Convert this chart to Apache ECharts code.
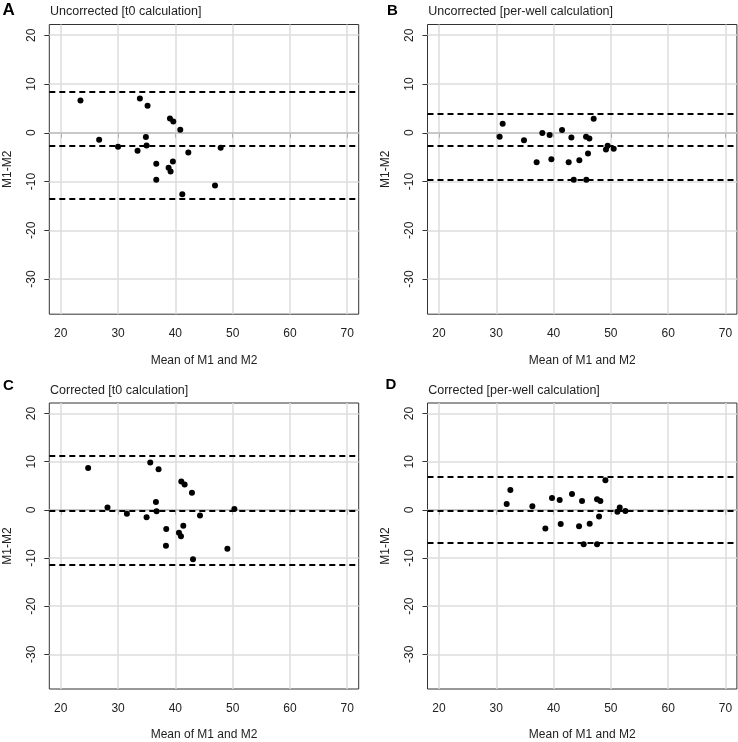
<!DOCTYPE html>
<html><head><meta charset="utf-8">
<script src="https://cdn.jsdelivr.net/npm/echarts@6/dist/echarts.min.js"></script>
<style>html,body{margin:0;padding:0;background:#fff}#c{width:738px;height:742px}</style>
</head><body><div id="c"></div>
<script>
// ---- data ----
const xTicks = [20, 30, 40, 50, 60, 70];
const yTicks = [-30, -20, -10, 0, 10, 20];
const xRange = [18, 72];
const yRange = [-37.2, 22.2];
const panelLetters = ['A', 'B', 'C', 'D'];
const panelTitles = ['Uncorrected [t0 calculation]', 'Uncorrected [per-well calculation]', 'Corrected [t0 calculation]', 'Corrected [per-well calculation]'];
const xName = 'Mean of M1 and M2';
const yName = 'M1-M2';

const aX = [23.44, 26.7, 30.0, 33.4, 33.81, 35.15, 34.86, 34.98, 36.67, 36.67, 39.06, 39.64, 38.82, 39.17, 39.57, 40.86, 41.21, 42.26, 46.92, 47.91];
const aY = [6.63, -1.44, -2.87, -3.69, 7.04, 5.54, -0.89, -2.6, -6.36, -9.64, 2.94, 2.33, -7.18, -7.93, -5.88, 0.62, -12.59, -4.04, -10.81, -3.08];
const aLimits = [8.5, -2.65, -13.6];

const bX = [30.59, 31.12, 34.84, 37.05, 38.04, 39.32, 39.62, 41.48, 42.64, 43.11, 43.52, 44.5, 45.67, 46.25, 45.72, 46.01, 47.0, 49.15, 49.44, 50.5];
const bY = [-0.82, 1.86, -1.51, -6.05, -0.07, -0.48, -5.43, 0.55, -6.05, -0.96, -9.62, -5.64, -0.82, -1.17, -9.62, -4.26, 2.89, -3.44, -2.68, -3.3];
const bLimits = [3.99, -2.75, -9.62];

const cX = [24.78, 28.16, 31.54, 34.98, 35.62, 37.07, 36.61, 36.72, 38.41, 38.36, 40.63, 40.98, 41.04, 41.62, 41.39, 42.9, 43.08, 44.3, 49.08, 50.3];
const cY = [8.7, 0.48, -0.82, -1.51, 9.86, 8.42, 1.64, -0.27, -3.97, -7.47, -4.73, -5.48, 5.89, 5.27, -3.29, 3.56, -10.27, -1.16, -8.08, 0.21];
const cLimits = [11.16, -0.14, -11.44];

const dX = [31.82, 32.46, 36.3, 38.57, 39.73, 41.07, 41.25, 43.22, 44.97, 44.45, 45.26, 46.31, 47.59, 48.17, 47.94, 47.59, 49.05, 51.14, 51.55, 52.54];
const dY = [1.23, 4.11, 0.75, -3.84, 2.47, 2.05, -2.95, 3.29, 1.85, -3.42, -7.12, -2.88, 2.19, 1.85, -1.37, -7.12, 6.16, -0.41, 0.48, -0.21];
const dLimits = [6.78, -0.14, -6.92];

// ---- layout ----
const FONT = '"Liberation Sans", Arial, Helvetica, sans-serif';
const panels = [
  {x: aX, y: aY, lim: aLimits, left: 49.3, top: 24.5, letterX: 2.5, letterY: 2, letterSize: 17},
  {x: bX, y: bY, lim: bLimits, left: 427.5, top: 24.5, letterX: 387, letterY: 3.5, letterSize: 15},
  {x: cX, y: cY, lim: cLimits, left: 49.3, top: 403, letterX: 3, letterY: 378, letterSize: 15},
  {x: dX, y: dY, lim: dLimits, left: 427.5, top: 403, letterX: 385.5, letterY: 377.5, letterSize: 15}
];
const W = 309.4, H = 289.7;

const option = {
  animation: false,
  backgroundColor: '#fff',
  textStyle: {fontFamily: FONT},
  title: [], grid: [], xAxis: [], yAxis: [], series: []
};

panels.forEach((p, i) => {
  option.title.push({
    text: panelLetters[i], left: p.letterX, top: p.letterY, padding: 0,
    textStyle: {fontFamily: FONT, fontSize: p.letterSize, fontWeight: 'bold', color: '#000'}
  });
  option.title.push({
    text: panelTitles[i], left: p.left + 0.7, top: p.top - 19.3, padding: 0,
    textStyle: {fontFamily: FONT, fontSize: 12.5, fontWeight: 'normal', color: '#222'}
  });
  option.grid.push({
    left: p.left, top: p.top, width: W, height: H,
    show: true, borderColor: '#333', borderWidth: 1, backgroundColor: 'transparent'
  });
  option.xAxis.push({
    type: 'value', gridIndex: i, min: xRange[0], max: xRange[1],
    name: xName, nameLocation: 'middle', nameGap: 40,
    nameTextStyle: {fontFamily: FONT, fontSize: 12, color: '#222'},
    axisLine: {show: false},
    axisTick: {show: true, length: 5, customValues: xTicks, lineStyle: {color: '#333'}},
    axisLabel: {customValues: xTicks, margin: 13.5, fontFamily: FONT, fontSize: 12, color: '#222'},
    splitLine: {show: false}
  });
  option.yAxis.push({
    type: 'value', gridIndex: i, min: yRange[0], max: yRange[1],
    name: yName, nameLocation: 'middle', nameGap: 36, nameRotate: 90,
    nameTextStyle: {fontFamily: FONT, fontSize: 12, color: '#222'},
    axisLine: {show: false},
    axisTick: {show: true, length: 5, customValues: yTicks, lineStyle: {color: '#333'}},
    axisLabel: {customValues: yTicks, rotate: 90, margin: 12, fontFamily: FONT, fontSize: 12, color: '#222'},
    splitLine: {show: false}
  });
  const ml = [];
  xTicks.forEach(v => ml.push({xAxis: v, lineStyle: {color: '#dcdcdc', width: 1.5, type: 'solid'}}));
  yTicks.forEach(v => ml.push({yAxis: v, lineStyle: {color: '#dcdcdc', width: 1.5, type: 'solid'}}));
  ml.push({yAxis: 0, lineStyle: {color: '#bebebe', width: 1.5, type: 'solid'}});
  p.lim.forEach(v => ml.push({yAxis: v, lineStyle: {color: '#000', width: 2, type: [6, 4]}}));
  option.series.push({
    type: 'scatter', xAxisIndex: i, yAxisIndex: i,
    data: p.x.map((x, k) => [x, p.y[k]]),
    symbol: 'circle', symbolSize: 6,
    itemStyle: {color: '#000', opacity: 1},
    z: 5,
    markLine: {silent: true, symbol: ['none', 'none'], label: {show: false}, animation: false, data: ml, z: 1}
  });
});

const chart = echarts.init(document.getElementById('c'), null, {renderer: 'canvas'});
chart.setOption(option);
</script>
</body></html>
